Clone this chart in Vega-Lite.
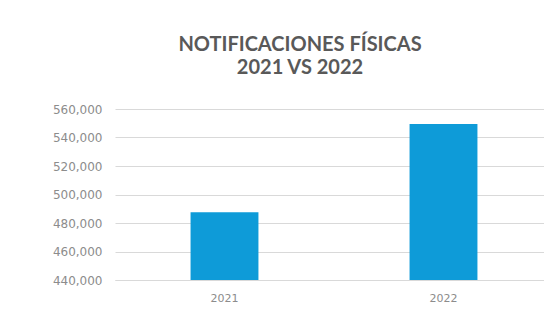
{
  "$schema": "https://vega.github.io/schema/vega-lite/v6.json",
  "autosize": "none",
  "width": 438,
  "height": 171,
  "padding": {"left": 115, "top": 109, "right": 0, "bottom": 37},
  "background": "white",
  "title": {
    "text": ["NOTIFICACIONES FÍSICAS", "2021 VS 2022"],
    "anchor": "start",
    "frame": "group",
    "align": "center",
    "dx": 185,
    "font": "Lato",
    "fontSize": 20,
    "fontWeight": "bold",
    "color": "#595959",
    "lineHeight": 23,
    "offset": 25
  },
  "data": {
    "values": [
      {"year": "2021", "value": 487500},
      {"year": "2022", "value": 549500}
    ]
  },
  "mark": {"type": "bar", "color": "#0E9BD8"},
  "encoding": {
    "x": {
      "field": "year",
      "type": "nominal",
      "title": null,
      "scale": {"paddingInner": 0.69, "paddingOuter": 0.345},
      "axis": {
        "labelAngle": 0,
        "labelFont": "DejaVu Sans",
        "labelFontSize": 11,
        "labelColor": "#8c8c8c",
        "labelPadding": 12,
        "ticks": false,
        "domainColor": "#d9d9d9",
        "domainWidth": 1
      }
    },
    "y": {
      "field": "value",
      "type": "quantitative",
      "title": null,
      "scale": {"domain": [440000, 560000], "zero": false},
      "axis": {
        "values": [440000, 460000, 480000, 500000, 520000, 540000, 560000],
        "format": ",.0f",
        "labelFont": "DejaVu Sans",
        "labelFontSize": 12,
        "labelColor": "#8c8c8c",
        "labelPadding": 13,
        "ticks": false,
        "domain": false,
        "gridColor": "#d9d9d9",
        "gridWidth": 1
      }
    },
    "y2": {"datum": 440000}
  },
  "config": {"view": {"stroke": null}}
}
